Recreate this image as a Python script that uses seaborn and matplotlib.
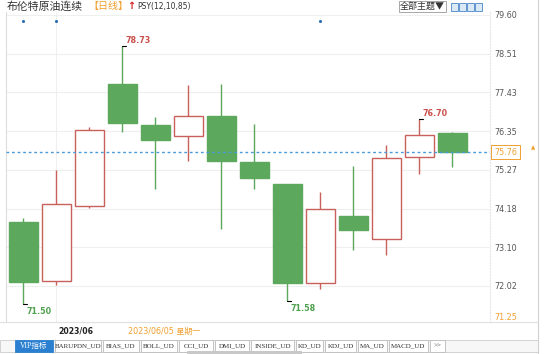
import matplotlib
matplotlib.use("Agg")
import matplotlib.pyplot as plt
import matplotlib.patches as mpatches
import seaborn as sns
import numpy as np

# daily Brent candles, 2023/05/31 .. 2023/06/19
dates = ["05/31", "06/01", "06/02", "06/05", "06/06", "06/07", "06/08",
         "06/09", "06/12", "06/13", "06/14", "06/15", "06/16", "06/19"]
opens = [73.80, 72.15, 74.26, 77.66, 76.52, 76.20, 76.76,
         75.49, 74.86, 72.09, 73.96, 73.34, 75.62, 76.30]
closes = [72.12, 74.30, 76.38, 76.57, 76.09, 76.76, 75.51,
          75.03, 72.09, 74.16, 73.57, 75.59, 76.23, 75.76]
highs = [73.92, 75.26, 76.47, 78.73, 76.74, 77.63, 77.67,
         76.56, 74.87, 74.64, 75.36, 75.96, 76.70, 76.31]
lows = [71.50, 72.04, 74.20, 76.32, 74.72, 75.51, 73.60,
        74.72, 71.58, 71.94, 73.01, 72.87, 75.14, 75.34]
psy_signals = [0, 1, 9]
last_price = 75.76
y_ticks = [79.60, 78.51, 77.43, 76.35, 75.27, 74.18, 73.10, 72.02, 71.25]
tabs = ["BARUPDN_UD", "BIAS_UD", "BOLL_UD", "CCI_UD", "DMI_UD", "INSIDE_UD",
        "KD_UD", "KDJ_UD", "MA_UD", "MACD_UD", ">>"]
tab_edges = [55, 103, 141, 179, 215, 251, 296, 325, 358, 389, 430, 447]

UP = "#c9605c"
DOWN = "#5ca85c"
ORANGE = "#f0a030"
CJK = ["Noto Sans CJK SC", "DejaVu Sans"]

sns.set_theme(style="white")
plt.rcParams["font.family"] = ["DejaVu Sans", "Noto Sans CJK SC"]

W, H = 544, 354
fig = plt.figure(figsize=(W / 100, H / 100), dpi=100)


def fx(x):
    return x / W


def fy(y):
    return 1 - y / H


ax = fig.add_axes([fx(6), fy(322), fx(490 - 6), (322 - 12) / H])

x = np.arange(len(dates))
o, c = np.array(opens), np.array(closes)
up = c >= o
body_lo = np.minimum(o, c)
body_h = np.abs(c - o)

# wicks
ax.vlines(x[up], np.array(lows)[up], np.array(highs)[up], color=UP, lw=1, zorder=2)
ax.vlines(x[~up], np.array(lows)[~up], np.array(highs)[~up], color=DOWN, lw=1, zorder=2)
# bodies
ax.bar(x[up], body_h[up], bottom=body_lo[up], width=0.88, facecolor="white",
       edgecolor=UP, lw=1, zorder=3)
ax.bar(x[~up], body_h[~up], bottom=body_lo[~up], width=0.88, facecolor=DOWN,
       edgecolor=DOWN, lw=1, zorder=3)

# last price dotted line
ax.axhline(last_price, color="#4a9ad8", ls=(0, (2, 2)), lw=1, zorder=4)

# grid
for t in y_ticks[:-1]:
    ax.axhline(t, color="#efefef", lw=0.8, zorder=0)
ax.axvline(1, color="#efefef", lw=0.8, zorder=0)

ax.set_xlim(-0.53, 14.14)
ax.set_ylim(71.003, 79.684)

# PSY signal dots
sns.scatterplot(x=x[psy_signals], y=[79.43] * len(psy_signals), ax=ax,
                color="#2d6fb5", s=5, linewidth=0, zorder=5)

# extreme labels
for i, val, col, above in [(3, highs[3], "#c9504b", True), (12, highs[12], "#c9504b", True),
                           (0, lows[0], "#4fa04f", False), (8, lows[8], "#4fa04f", False)]:
    ax.plot([i - 0.02, i + 0.12], [val, val], color="black", lw=0.8, zorder=6)
    ax.text(i + 0.1, val + (0.02 if above else -0.08), f"{val:.2f}", color=col,
            fontsize=5.8, fontweight="bold", ha="left",
            va="bottom" if above else "top", zorder=6)

# right price axis
ax.yaxis.tick_right()
ax.set_yticks(y_ticks)
ax.set_yticklabels([f"{t:.2f}" for t in y_ticks], fontsize=5.8, color="#555555")
ax.get_yticklabels()[-1].set_color(ORANGE)
ax.get_yticklabels()[-1].set_va("top")
ax.tick_params(axis="y", length=0, pad=3)
ax.set_xticks([])
for s in ["top", "bottom"]:
    ax.spines[s].set_visible(False)
ax.spines["left"].set_color("#dddddd")
ax.spines["left"].set_linewidth(0.8)
ax.spines["right"].set_color("#e6e6e6")
ax.spines["right"].set_linestyle(":")
ax.spines["right"].set_linewidth(0.8)

# last price box on the axis
yb = ax.transData.transform((0, last_price))[1] / fig.bbox.height
fig.text(fx(494), yb, f"{last_price:.2f}", fontsize=5.8, color=ORANGE,
         va="center", ha="left",
         bbox=dict(boxstyle="square,pad=0.35", fc="white", ec=ORANGE, lw=0.7))
fig.text(fx(533), yb + 0.012, "\u25b2", fontsize=4, color=ORANGE, ha="center",
         va="center")

# right border
fig.add_artist(plt.Line2D([fx(538), fx(538)], [fy(0), fy(354)], color="#d0d0d0", lw=0.8))

# header
fig.text(fx(7), fy(6), "布伦特原油连续", fontsize=7.8, color="#333333",
         va="center", family=CJK)
fig.text(fx(88), fy(6), "【日线】", fontsize=7.2, color=ORANGE, va="center",
         family=CJK)
fig.text(fx(127), fy(6), "\u2191", fontsize=7, color="#d02020", va="center",
         fontweight="bold")
fig.text(fx(137), fy(6), "PSY(12,10,85)", fontsize=5.5, color="#333333", va="center")
fig.text(fx(400), fy(6.5), "全部主题\u25bc", fontsize=6.5, color="#333333",
         va="center", family=CJK,
         bbox=dict(boxstyle="square,pad=0.15", fc="white", ec="#999999", lw=0.6))
for bx in [451, 459, 467, 475]:
    fig.add_artist(mpatches.Rectangle((fx(bx), fy(11)), fx(7), 8 / H,
                                      fc="#dbe9f7", ec="#4a86c8", lw=0.6))

# date row
fig.add_artist(plt.Line2D([0, fx(538)], [fy(322), fy(322)], color="#e0e0e0", lw=0.8))
fig.text(fx(58), fy(331), "2023/06", fontsize=5.6, color="#222222",
         fontweight="bold", va="center")
fig.text(fx(128), fy(331), "2023/06/05 星期一", fontsize=5.8, color=ORANGE,
         va="center", family=["DejaVu Sans", "Noto Sans CJK SC"])

# indicator tabs
fig.add_artist(mpatches.Rectangle((fx(0), fy(352)), fx(538), 12 / H,
                                  fc="#f7f7f7", ec="#cccccc", lw=0.6))
fig.add_artist(mpatches.Rectangle((fx(15), fy(352)), fx(38), 12 / H,
                                  fc="#2b7fd0", ec="#2b7fd0", lw=0.6))
fig.text(fx(34), fy(346), "VIP指标", fontsize=5.5, color="white", ha="center",
         va="center", family=["Liberation Serif", "Noto Sans CJK SC"])
for name, a, b in zip(tabs, tab_edges[:-1], tab_edges[1:]):
    fig.add_artist(mpatches.Rectangle((fx(a), fy(352)), fx(b - a - 2), 12 / H,
                                      fc="white", ec="#bbbbbb", lw=0.6))
    fig.text(fx((a + b - 2) / 2), fy(346), name, fontsize=5, color="#333333",
             ha="center", va="center", family=["Liberation Serif"])
fig.add_artist(mpatches.Rectangle((fx(187), fy(354)), fx(115), 3 / H,
                                  fc="#c8c8c8", ec="none"))

fig.savefig("out.png", dpi=100)
